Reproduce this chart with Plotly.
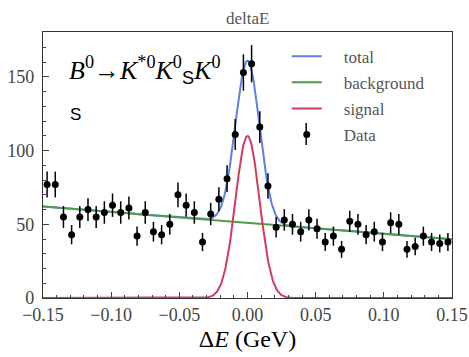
import numpy as np
import plotly.graph_objects as go

# ---- data ----
bin_width = 0.006
x_min, x_max = -0.15, 0.15
counts = [77, 77, 55, 43, 55, 60, 55, 58, 63, 58,
          61, 42, 58, 45, 43, 50, 70, 63, 58, 38,
          57, 67, 81, 111, 153, 159, 116, 76, 48, 53,
          50, 45, 53, 47, 38, 42, 33, 52, 50, 43,
          45, 38, 51, 50, 33, 35, 42, 38, 37, 38]
bin_centers = [x_min + bin_width * (i + 0.5) for i in range(len(counts))]
errors = [np.sqrt(c) for c in counts]

# fit model parameters
bkg_intercept = 51.0
bkg_slope = -74.0
sig_amp = 110.0
sig_mean = 0.0
sig_sigma = 0.0088

x_ticks = [-0.15, -0.10, -0.05, 0.00, 0.05, 0.10, 0.15]
x_tick_labels = ["\u22120.15", "\u22120.10", "\u22120.05", "0.00", "0.05", "0.10", "0.15"]
y_ticks = [0, 50, 100, 150]

xc = np.linspace(x_min, x_max, 601)
bkg = bkg_intercept + bkg_slope * xc
sig = sig_amp * np.exp(-0.5 * ((xc - sig_mean) / sig_sigma) ** 2)
tot = bkg + sig

BLUE = "#5d7fe6"
GREEN = "#4f9d48"
RED = "#d23c5c"
SERIF = "Liberation Serif, serif"
NB = "\u00a0\u00a0\u00a0\u00a0"

# plot-area geometry in pixels (for placing free text)
PL, PR, PT, PB = 43, 452.5, 32, 298
def px(xp):
    return (xp - PL) / (PR - PL)
def py(yp):
    return (PB - yp) / (PB - PT)

fig = go.Figure()
fig.add_trace(go.Scatter(x=xc, y=tot, mode="lines", name=NB + "total",
                         line=dict(color=BLUE, width=2), legendgroup="a"))
fig.add_trace(go.Scatter(x=xc, y=bkg, mode="lines", name=NB + "background",
                         line=dict(color=GREEN, width=2), legendgroup="b"))
fig.add_trace(go.Scatter(x=xc, y=sig, mode="lines", name=NB + "signal",
                         line=dict(color=RED, width=2), legendgroup="c"))
fig.add_trace(go.Scatter(x=bin_centers, y=counts, mode="markers", name=NB + "Data",
                         marker=dict(color="black", size=7),
                         error_y=dict(type="data", array=errors, visible=True,
                                      color="black", thickness=1.5, width=0),
                         legendgroup="d"))

fig.add_annotation(
    x=px(67), y=py(70), xref="paper", yref="paper", showarrow=False,
    xanchor="left", yanchor="middle",
    text="<i>B</i><sup>0</sup>\u2192<i>K</i><sup>*0</sup><i>K</i><sup>0</sup>"
         "<sub><span style=\"font-family:Liberation Sans\">S</span></sub>"
         "<i>K</i><sup>0</sup>",
    font=dict(family=SERIF, size=26, color="black"))
fig.add_annotation(
    x=px(76), y=py(114), xref="paper", yref="paper", showarrow=False,
    xanchor="center", yanchor="middle", text="S",
    font=dict(family="Liberation Sans", size=17, color="black"))

# small vertical bar on the Data legend marker (error-bar glyph)
fig.add_shape(type="line", xref="paper", yref="paper",
              x0=px(306.5), x1=px(306.5), y0=py(123), y1=py(145),
              line=dict(color="black", width=1.5))

axis_common = dict(showgrid=False, zeroline=False, showline=True, mirror=True,
                   automargin=False,
                   linecolor="#333333", linewidth=1.2, ticks="inside",
                   tickcolor="#444444", tickfont=dict(family=SERIF, size=18, color="#444444"))

fig.update_layout(
    width=469, height=357,
    margin=dict(l=PL, r=469 - PR, t=PT, b=357 - PB),
    paper_bgcolor="white", plot_bgcolor="white",
    showlegend=True,
    title=dict(text="deltaE", x=0.528, xanchor="center", y=1 - 18 / 357, yanchor="middle",
               font=dict(family=SERIF, size=17, color="#555555")),
    legend=dict(x=0.596, y=0.975, xanchor="left", yanchor="top",
                bgcolor="rgba(0,0,0,0)", tracegroupgap=1,
                font=dict(family=SERIF, size=17, color="#555555")),
    xaxis=dict(range=[x_min, x_max], tickvals=x_ticks, ticktext=x_tick_labels,
               ticklen=6, ticklabelstandoff=0,
               minor=dict(dtick=0.01, ticks="inside", ticklen=3, tickcolor="#444444"),
               title=dict(text="\u0394<i>E</i> (GeV)", font=dict(family=SERIF, size=24, color="black"),
                          standoff=6),
               **axis_common),
    yaxis=dict(range=[0, 180.5], tickvals=y_ticks, ticklen=6, ticklabelstandoff=4,
               minor=dict(dtick=10, ticks="inside", ticklen=3, tickcolor="#444444"),
               **axis_common),
)

fig.write_html("out.html")
